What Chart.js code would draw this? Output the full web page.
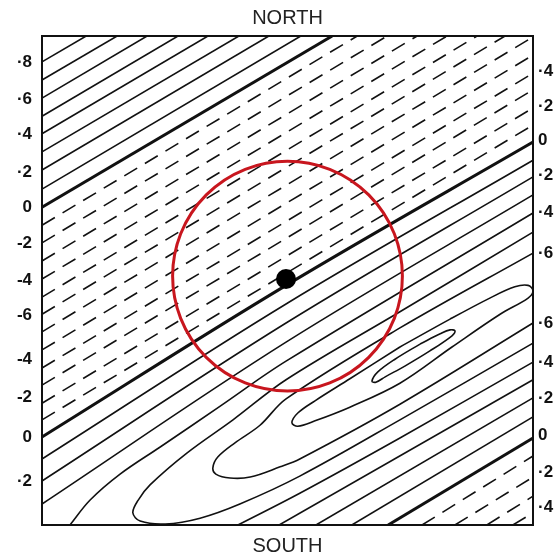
<!DOCTYPE html>
<html>
<head>
<meta charset="utf-8">
<script src="https://cdn.jsdelivr.net/npm/chart.js@4.4.1/dist/chart.umd.min.js"></script>
<style>
  html, body { margin: 0; padding: 0; background: #ffffff; }
  #wrap { width: 558px; height: 560px; position: relative; }
</style>
</head>
<body>
<div id="wrap"><canvas id="c"></canvas></div>
<script>
// ---- map grid: 0..100 (west->east), 0..100 (south->north) ----

// contour labels along the west and east edges
const leftTickPos    = [94.7, 87.1, 79.8, 72.2, 65.0, 57.7, 50.1, 42.9, 33.9, 26.2, 18.0, 9.0];
const leftTickLabels = ["·8", "·6", "·4", "·2", "0", "-2", "-4", "-6", "-4", "-2", "0", "·2"];
const rightTickPos    = [92.8, 85.7, 78.7, 71.6, 64.0, 55.6, 41.3, 33.3, 26.0, 18.4, 10.8, 3.7];
const rightTickLabels = ["·4", "·2", "0", "·2", "·4", "·6", "·6", "·4", "·2", "0", "·2", "·4"];

// north-west positive contours (west edge -> north edge)
const northLevels = [8, 7, 6, 5, 4, 3, 2, 1, 0];
const northLines = [
  [[0, 94.7], [9.0, 100]],
  [[0, 91.0], [15.3, 100]],
  [[0, 87.3], [21.4, 100]],
  [[0, 83.6], [27.7, 100]],
  [[0, 80.0], [33.8, 100]],
  [[0, 76.3], [40.1, 100]],
  [[0, 72.6], [46.2, 100]],
  [[0, 68.7], [52.7, 100]],
  [[0, 65.0], [59.1, 100]]
];

// negative trough contours
const troughLevels = [-1, -2, -3, -4, -5, -6, -6, -5, -4, -3, -2, -1, 0];
const troughLines = [
  [[0, 61.3], [64.2, 100]],
  [[0, 57.7], [70.3, 100]],
  [[0, 54.0], [76.4, 100]],
  [[0, 50.3], [82.5, 100]],
  [[0, 46.6], [88.6, 100]],
  [[0, 43.1], [94.3, 100]],
  [[0, 39.5], [100, 99.8]],
  [[0, 35.8], [100, 96.1]],
  [[0, 32.1], [100, 92.4]],
  [[0, 28.6], [100, 89.0]],
  [[0, 24.9], [100, 85.3]],
  [[0, 21.5], [100, 81.8]],
  [[0, 18.0], [49.7, 49.0], [100, 78.3]]
];

// positive contours on the north flank of the ridge
const flankLevels = [1, 2, 3, 4];
const flankLines = [
  [[0, 13.5], [49.7, 45.2], [100, 74.6]],
  [[0, 9.0], [49.7, 41.3], [100, 71.2]],
  [[0, 4.3], [49.7, 37.4], [100, 67.5]],
  [[5.7, 0], [9.8, 5.1], [15.9, 10.4], [24.0, 15.9], [36.3, 24.3], [49.7, 33.5], [100, 63.8]]
];

// ridge contours (open U-shapes and closed loops)
const ridgeLevels = [5, 6, 7, 8];
const ridgeLines = [
  [[100, 59.9], [72.9, 43.6], [49.7, 29.7], [38.9, 21.5], [29.5, 14.7], [22.0, 8.2], [19.6, 5.1],
   [18.5, 2.5], [20.0, 0.8], [25.1, 0.2], [32.2, 1.4], [40.3, 4.3], [52.5, 10.0], [72.9, 21.5], [100, 37.2]],
  [[100, 55.6], [72.9, 40.3], [49.7, 25.8], [44.4, 20.4], [39.3, 16.8], [35.8, 13.9], [34.8, 11.7],
   [35.4, 10.4], [38.3, 9.6], [42.4, 9.8], [48.5, 11.9], [52.5, 13.5], [72.9, 24.7], [100, 41.3]],
  [[72.9, 36.4], [83.1, 42.1], [91.2, 46.4], [96.3, 48.7], [99.0, 49.0], [100, 47.9], [99.0, 46.4],
   [93.3, 43.1], [83.5, 36.4], [72.9, 29.0], [62.7, 24.1], [55.6, 21.3], [52.1, 20.2], [50.9, 20.9],
   [52.1, 22.9], [55.6, 25.4], [62.7, 29.9], [72.9, 36.4]],
  [[77.0, 37.0], [81.1, 39.1], [83.1, 39.9], [84.1, 39.7], [83.5, 38.7], [79.0, 35.6], [73.9, 32.5],
   [69.9, 30.3], [68.0, 29.2], [67.2, 29.4], [68.4, 31.3], [71.9, 33.9], [77.0, 37.0]]
];

// contours on the south flank (south edge -> east edge)
const southLevels = [4, 3, 2, 1, 0, -1, -2, -3, -4];
const southLines = [
  [[39.9, 0], [52.5, 6.5], [72.9, 17.8], [100, 33.3]],
  [[48.3, 0], [100, 29.7]],
  [[55.8, 0], [100, 26.0]],
  [[63.1, 0], [100, 22.1]],
  [[70.5, 0], [100, 17.8]],
  [[77.4, 0], [100, 14.1]],
  [[84.1, 0], [100, 9.8]],
  [[90.6, 0], [100, 5.9]],
  [[95.9, 0], [100, 2.5]]
];

// station and search radius
const stationX = [49.7];
const stationY = [50.3];
const circleX = [50.0];
const circleY = [50.9];
const circleRadius = 23.4;

// ---------------------------------------------------------------
const FONT = "'Liberation Sans', Arial, sans-serif";
const INK = '#111111';

function contourSet(pts, level) {
  return {
    data: pts.map(p => ({ x: p[0], y: p[1] })),
    showLine: true,
    pointRadius: 0,
    pointHoverRadius: 0,
    borderColor: INK,
    borderWidth: level === 0 ? 3 : 1.6,
    borderDash: level < 0 ? [15, 9] : [],
    tension: pts.length > 2 ? 0.35 : 0,
    fill: false,
    order: 2
  };
}

const datasets = [];
[[northLines, northLevels], [troughLines, troughLevels], [flankLines, flankLevels],
 [ridgeLines, ridgeLevels], [southLines, southLevels]].forEach(([lines, levels]) => {
  lines.forEach((pts, i) => datasets.push(contourSet(pts, levels[i])));
});

datasets.push({
  data: circleX.map((x, i) => ({ x: x, y: circleY[i] })),
  showLine: false,
  pointStyle: 'circle',
  pointRadius: (ctx) => {
    const s = ctx.chart.scales.x;
    return Math.abs(s.getPixelForValue(circleRadius) - s.getPixelForValue(0));
  },
  pointHoverRadius: 0,
  pointBackgroundColor: 'rgba(0,0,0,0)',
  pointBorderColor: '#c8161e',
  pointBorderWidth: 3,
  order: 1
});

datasets.push({
  data: stationX.map((x, i) => ({ x: x, y: stationY[i] })),
  showLine: false,
  pointStyle: 'circle',
  pointRadius: 10,
  pointHoverRadius: 10,
  pointBackgroundColor: '#000000',
  pointBorderWidth: 0,
  order: 0
});

const edge = { display: true, color: INK, width: 2 };
const tickFont = { family: FONT, size: 17, weight: 'bold' };

new Chart(document.getElementById('c'), {
  type: 'scatter',
  data: { datasets: datasets },
  options: {
    responsive: true,
    maintainAspectRatio: false,
    animation: false,
    events: [],
    layout: { padding: 0 },
    plugins: {
      legend: { display: false },
      tooltip: { enabled: false },
      title: {
        display: true, text: 'NORTH', position: 'top', fullSize: false,
        color: '#222222', font: { family: FONT, size: 20, weight: 'normal' },
        padding: { top: 6, bottom: 6 }
      },
      subtitle: {
        display: true, text: 'SOUTH', position: 'bottom', fullSize: false,
        color: '#222222', font: { family: FONT, size: 20, weight: 'normal' },
        padding: { top: 9, bottom: 2 }
      }
    },
    scales: {
      x: {
        type: 'linear', min: 0, max: 100, position: 'bottom',
        grid: { display: false, drawTicks: false },
        ticks: { display: false },
        border: edge,
        afterFit: (s) => { s.height = 0; }
      },
      x2: {
        type: 'linear', min: 0, max: 100, position: 'top',
        grid: { display: false, drawTicks: false },
        ticks: { display: false },
        border: edge,
        afterFit: (s) => { s.height = 0; }
      },
      y: {
        type: 'linear', min: 0, max: 100, position: 'left',
        grid: { display: false, drawTicks: false },
        border: edge,
        afterBuildTicks: (s) => { s.ticks = leftTickPos.map(v => ({ value: v })); },
        ticks: {
          autoSkip: false, padding: 10, color: INK, font: tickFont,
          callback: (v, i) => leftTickLabels[i]
        },
        afterFit: (s) => { s.width = 42; }
      },
      y2: {
        type: 'linear', min: 0, max: 100, position: 'right',
        grid: { display: false, drawTicks: false },
        border: edge,
        afterBuildTicks: (s) => { s.ticks = rightTickPos.map(v => ({ value: v })); },
        ticks: {
          autoSkip: false, padding: 5, color: INK, font: tickFont,
          callback: (v, i) => rightTickLabels[i]
        },
        afterFit: (s) => { s.width = 25; }
      }
    }
  }
});
</script>
</body>
</html>
